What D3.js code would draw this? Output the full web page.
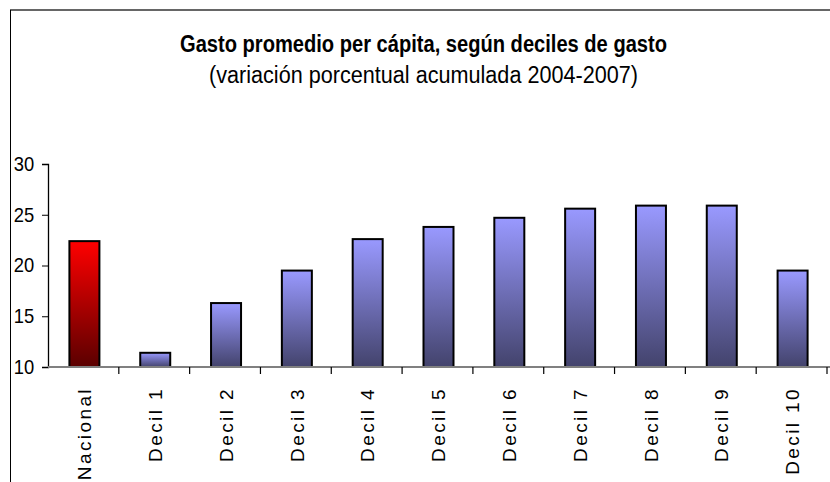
<!DOCTYPE html>
<html><head><meta charset="utf-8">
<script src="https://cdn.jsdelivr.net/npm/d3@7"></script>
<style>body{margin:0;background:#fff}svg{display:block}</style>
</head><body>
<script>
const categories = ["Nacional","Decil 1","Decil 2","Decil 3","Decil 4","Decil 5","Decil 6","Decil 7","Decil 8","Decil 9","Decil 10"];
const values = [22.4, 11.4, 16.3, 19.5, 22.6, 23.8, 24.7, 25.6, 25.9, 25.9, 19.5];
const yTicks = [10, 15, 20, 25, 30];
const title = "Gasto promedio per cápita, según deciles de gasto";
const subtitle = "(variación porcentual acumulada 2004-2007)";

const W = 830, H = 482;
const svg = d3.select("body").append("svg").attr("width", W).attr("height", H);
const defs = svg.append("defs");
const gR = defs.append("linearGradient").attr("id","gRed").attr("x1",0).attr("y1",0).attr("x2",0).attr("y2",1);
gR.append("stop").attr("offset","0%").attr("stop-color","#ff0000");
gR.append("stop").attr("offset","100%").attr("stop-color","#5a0000");
const gB = defs.append("linearGradient").attr("id","gBlue").attr("x1",0).attr("y1",0).attr("x2",0).attr("y2",1);
gB.append("stop").attr("offset","0%").attr("stop-color","#9999ff");
gB.append("stop").attr("offset","100%").attr("stop-color","#43436c");

// frame
svg.append("line").attr("x1",10).attr("x2",W).attr("y1",10).attr("y2",10).attr("stroke","#333").attr("stroke-width",1.5);
svg.append("line").attr("x1",10.5).attr("x2",10.5).attr("y1",10).attr("y2",H).attr("stroke","#000").attr("stroke-width",1);

// titles
svg.append("text").attr("x",423.5).attr("y",52).attr("text-anchor","middle")
  .attr("font-family","'Liberation Sans', Arial, sans-serif").attr("font-weight","bold").attr("font-size",23)
  .attr("textLength",487).attr("lengthAdjust","spacingAndGlyphs").text(title);
svg.append("text").attr("x",423.5).attr("y",83).attr("text-anchor","middle")
  .attr("font-family","'Liberation Sans', Arial, sans-serif").attr("font-size",23)
  .attr("textLength",429).attr("lengthAdjust","spacingAndGlyphs").text(subtitle);

const x = d3.scaleBand().domain(categories).range([48, 827]).padding(0);
const y = d3.scaleLinear().domain([10, 30]).range([367, 164]);

// y axis
const yAxis = svg.append("g").attr("transform","translate(48,0)")
  .call(d3.axisLeft(y).tickValues(yTicks).tickSize(6).tickPadding(8).tickFormat(d3.format("d")));
yAxis.select(".domain").attr("stroke","#000").attr("stroke-width",1.3);
yAxis.selectAll(".tick line").attr("stroke","#000");
yAxis.selectAll(".tick text").attr("font-family","'Liberation Sans', Arial, sans-serif").attr("font-size",20).attr("fill","#000")
  .attr("transform","scale(0.92,1)").attr("x",-15);

// bars
const bw = 30;
svg.append("g").selectAll("rect").data(values).join("rect")
  .attr("x",(d,i)=>x(categories[i]) + x.bandwidth()/2 - bw/2 + 1)
  .attr("y",d=>y(d))
  .attr("width",bw)
  .attr("height",d=>y(10)-y(d))
  .attr("fill",(d,i)=>i===0?"url(#gRed)":"url(#gBlue)")
  .attr("stroke","#000").attr("stroke-width",2);

// x axis
svg.append("line").attr("x1",48).attr("x2",W).attr("y1",367).attr("y2",367).attr("stroke","#808080").attr("stroke-width",2);
const bounds = categories.map(c=>x(c)).concat([x(categories[categories.length-1])+x.bandwidth()]);
svg.append("g").selectAll("line").data(bounds.slice(1)).join("line")
  .attr("x1",d=>d).attr("x2",d=>d).attr("y1",367).attr("y2",374).attr("stroke","#000").attr("stroke-width",1.2);

// x labels
svg.append("g").selectAll("text").data(categories).join("text")
  .attr("transform",d=>`translate(${x(d)+x.bandwidth()/2+1},${387}) rotate(-90)`)
  .attr("text-anchor","end").attr("dy","0.35em")
  .attr("font-family","'Liberation Sans', Arial, sans-serif").attr("font-size",19)
  .attr("letter-spacing",2.4)
  .text(d=>d);
</script>
</body></html>
